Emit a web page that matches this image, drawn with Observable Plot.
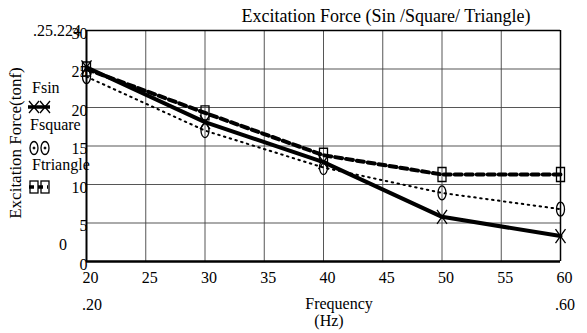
<!DOCTYPE html>
<html>
<head>
<meta charset="utf-8">
<script src="https://cdn.jsdelivr.net/npm/d3@7"></script>
<script src="https://cdn.jsdelivr.net/npm/@observablehq/plot@0.6"></script>
<style>
  body { margin: 0; background: white; }
  #wrap { position: relative; width: 587px; height: 333px; font-family: "Liberation Serif", serif; }
  #wrap > svg { position: absolute; left: 0; top: 0; }
  #wrap text { font-family: "Liberation Serif", serif; }
  #overlay { pointer-events: none; }
</style>
</head>
<body>
<div id="wrap"></div>
<script>
// ---- data ----
const frequency = [20, 30, 40, 50, 60];
const Fsin      = [25.224, 18.1, 12.9, 5.8, 3.3];
const Fsquare   = [24.0, 17.0, 12.2, 8.9, 6.8];
const Ftriangle = [25.0, 19.3, 13.8, 11.3, 11.3];
const xTicks = [20, 25, 30, 35, 40, 45, 50, 55, 60];
const yTicks = [0, 5, 10, 15, 20, 25, 30];
const seriesNames = ["Fsin", "Fsquare", "Ftriangle"];
const titleText = "Excitation Force (Sin /Square/ Triangle)";
const yLabelText = "Excitation Force(tonf)";
const xLabelLines = ["Frequency", "(Hz)"];

const rows = (vals) => frequency.map((f, i) => ({f, v: vals[i]}));

// custom marker symbols
const tallX = {draw(ctx) { ctx.moveTo(-5, -7); ctx.lineTo(5, 7); ctx.moveTo(5, -7); ctx.lineTo(-5, 7); }};
const tallEllipse = {draw(ctx) {
  const rx = 4, ry = 7, k = 0.5523;
  ctx.moveTo(0, -ry);
  ctx.bezierCurveTo(rx * k, -ry, rx, -ry * k, rx, 0);
  ctx.bezierCurveTo(rx, ry * k, rx * k, ry, 0, ry);
  ctx.bezierCurveTo(-rx * k, ry, -rx, ry * k, -rx, 0);
  ctx.bezierCurveTo(-rx, -ry * k, -rx * k, -ry, 0, -ry);
  ctx.closePath();
}};
const tallRect = {draw(ctx) { ctx.rect(-4, -7, 8, 14); }};

const FONT = "'Liberation Serif', serif";
const FS = 16;

const plot = Plot.plot({
  width: 587,
  height: 333,
  marginLeft: 86,
  marginRight: 27,
  marginTop: 30,
  marginBottom: 72,
  style: {fontFamily: FONT, fontSize: FS + "px", color: "black", background: "transparent"},
  x: {domain: [20, 60]},
  y: {domain: [0, 30]},
  marks: [
    Plot.gridX(xTicks, {stroke: "#444", strokeOpacity: 0.9, strokeWidth: 1}),
    Plot.gridY(yTicks, {stroke: "#444", strokeOpacity: 0.9, strokeWidth: 1}),
    Plot.ruleY([30], {stroke: "black", strokeWidth: 1.5}),
    Plot.ruleX([60], {stroke: "black", strokeWidth: 1.5}),
    Plot.ruleX([20], {stroke: "black", strokeWidth: 2}),
    Plot.ruleY([0], {stroke: "black", strokeWidth: 2.5}),
    Plot.axisX({ticks: xTicks, tickSize: 0, tickPadding: 10, dx: 4, label: null, tickFormat: d => String(d), fontSize: FS}),
    Plot.axisY({ticks: yTicks, tickSize: 0, tickPadding: -1, dy: 3, label: null, tickFormat: d => String(d), fontSize: FS}),
    Plot.line(rows(Ftriangle), {x: "f", y: "v", stroke: "black", strokeWidth: 4, strokeDasharray: "7,4"}),
    Plot.line(rows(Fsquare), {x: "f", y: "v", stroke: "black", strokeWidth: 2, strokeDasharray: "1.5,4.5"}),
    Plot.line(rows(Fsin), {x: "f", y: "v", stroke: "black", strokeWidth: 4}),
    Plot.dot(rows(Ftriangle), {x: "f", y: "v", symbol: tallRect, stroke: "black", strokeWidth: 1.3, fill: "none"}),
    Plot.dot(rows(Fsquare), {x: "f", y: "v", symbol: tallEllipse, stroke: "black", strokeWidth: 1.3, fill: "none"}),
    Plot.dot(rows(Fsin), {x: "f", y: "v", symbol: tallX, stroke: "black", strokeWidth: 1.3, fill: "none"})
  ]
});

const wrap = document.getElementById("wrap");
wrap.appendChild(plot);

// ---- annotations overlay (title, axis labels, legend) ----
const ov = d3.select(wrap).append("svg").attr("id", "overlay")
  .attr("width", 587).attr("height", 333)
  .attr("font-family", FONT)
  .attr("font-size", FS);

const txt = (x, y, s, anchor = "start", size = FS, extra) => {
  const t = ov.append("text").attr("x", x).attr("y", y).attr("text-anchor", anchor)
    .attr("font-size", size).attr("fill", "black").text(s);
  if (extra) extra(t);
  return t;
};

txt(386, 22, titleText, "middle", 18);
txt(0, 0, yLabelText, "middle", 17, t => t.attr("transform", "translate(21,143) rotate(-90)"));
txt(339, 309, xLabelLines[0], "middle", 16);
txt(329, 326, xLabelLines[1], "middle", 16);
txt(33, 36, ".25.224");
txt(82, 310, ".20");
txt(555, 310, ".60");
txt(59, 250, "0");

// legend
txt(32, 93, seriesNames[0]);
txt(30, 130, seriesNames[1]);
txt(32, 170, seriesNames[2]);

const g = ov.append("g").attr("stroke", "black").attr("fill", "none");
g.append("line").attr("x1", 28).attr("x2", 50).attr("y1", 107).attr("y2", 107).attr("stroke-width", 3.5);
[34, 45].forEach(cx => {
  g.append("path").attr("d", `M${cx-5},${101}L${cx+5},${113}M${cx+5},${101}L${cx-5},${113}`).attr("stroke-width", 1.3);
});
[34, 45].forEach(cx => {
  g.append("ellipse").attr("cx", cx).attr("cy", 148).attr("rx", 4).attr("ry", 6.5).attr("stroke-width", 1.3);
  g.append("circle").attr("cx", cx).attr("cy", 148).attr("r", 1).attr("fill", "black");
});
[34, 45].forEach(cx => {
  g.append("rect").attr("x", cx - 4).attr("y", 181).attr("width", 8).attr("height", 12).attr("stroke-width", 1.3);
});
g.append("line").attr("x1", 29).attr("x2", 48).attr("y1", 187).attr("y2", 187).attr("stroke-width", 3.5).attr("stroke-dasharray", "5,4");
</script>
</body>
</html>
